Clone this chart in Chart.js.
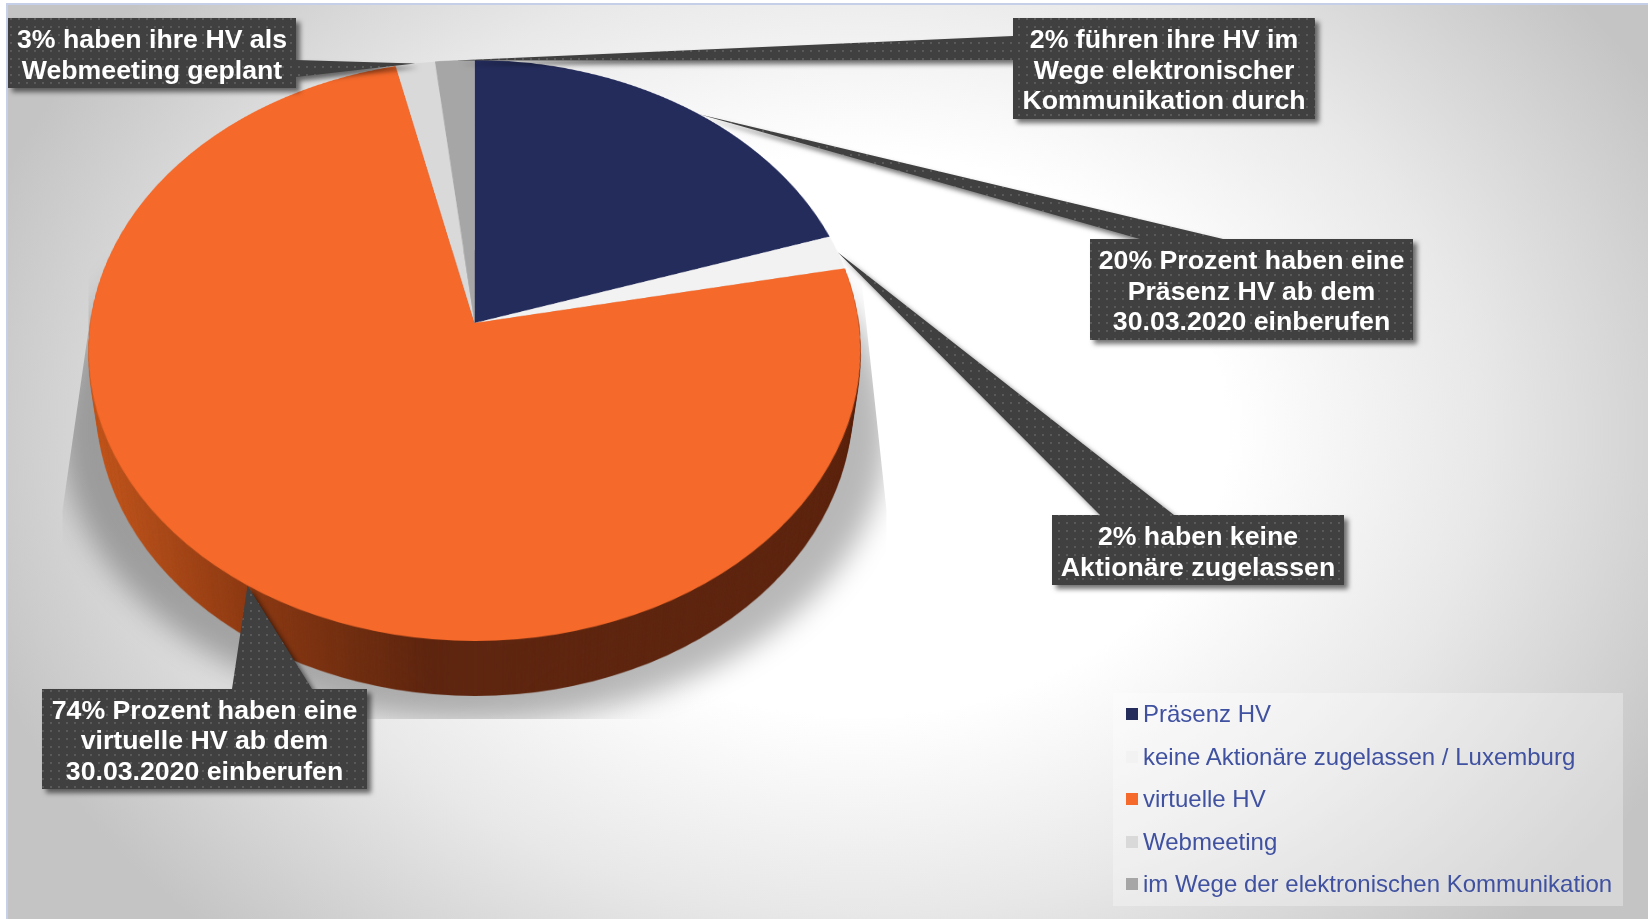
<!DOCTYPE html>
<html lang="de">
<head>
<meta charset="utf-8">
<title>HV Formate</title>
<script src="https://cdn.jsdelivr.net/npm/chart.js"></script>
<style>
  html, body { margin: 0; padding: 0; background: #fff; overflow: hidden; }
  #bg {
    position: absolute; left: 6px; top: 3px; width: 1642px; height: 916px; box-sizing: border-box;
    border-left: 2px solid #c5cfe8; border-top: 2px solid #c5cfe8;
    background: radial-gradient(ellipse 920px 700px at 850px 430px, #fff 40%, #e8e8e8 68%, #c4c4c4 100%);
  }
  #chart { position: absolute; left: 0; top: 0; }
  #legend {
    position: absolute; left: 1113px; top: 693px; width: 510px; height: 213px;
    background: rgba(255,255,255,0.3);
    font: 24px "Liberation Sans", sans-serif; color: #3f51a0;
  }
  #legend div.row { position: absolute; left: 13px; height: 30px; line-height: 30px; white-space: nowrap; }
  #legend span.box { position: absolute; left: 0; top: 9px; width: 12px; height: 12px; }
  #legend span.txt { position: absolute; left: 17px; top: 0; }
</style>
</head>
<body>
<div id="bg"></div>
<canvas id="chart" width="1648" height="919"></canvas>
<div id="legend"></div>
<script>
const categories = ['Präsenz HV', 'keine Aktionäre zugelassen / Luxemburg', 'virtuelle HV', 'Webmeeting', 'im Wege der elektronischen Kommunikation'];
const values = [20, 1.9, 74.5, 1.8, 1.8];
const sliceColors = ['#242c5c', '#f2f2f2', '#f5692a', '#d9d9d9', '#a6a6a6'];

const calloutLines = [
  ['20% Prozent haben eine', 'Präsenz HV ab dem', '30.03.2020 einberufen'],
  ['2% haben keine', 'Aktionäre zugelassen'],
  ['74% Prozent haben eine', 'virtuelle HV ab dem', '30.03.2020 einberufen'],
  ['3% haben ihre HV als', 'Webmeeting geplant'],
  ['2% führen ihre HV im', 'Wege elektronischer', 'Kommunikation durch']
];

// box = left, top, right, bottom / base = where the wedge leaves the box
const calloutLayout = [
  { box: [1090, 239, 1413, 340], side: 'top', base: [1140, 1223], frac: 0.54 },
  { box: [1052, 515, 1344, 585], side: 'top', base: [1100, 1174], frac: 0.5 },
  { box: [42, 689, 367, 789], side: 'top', base: [232, 312], frac: 0.5 },
  { box: [8, 18, 296, 88], side: 'right', base: [60, 77], frac: 0.5 },
  { box: [1013, 18, 1315, 119], side: 'left', base: [36, 60], frac: 0.5 }
];

// --- tilt of the pie: a perspective projection of the library's circle ---
const apexY = 323, topY = 60, bottomY = 641, halfWidth = 386, wallDepth = 55;
const tilt = -(bottomY - apexY - (apexY - topY)) / (bottomY - topY);
const scaleY = (bottomY - apexY) * (1 + tilt);
const scaleX = halfWidth * Math.sqrt(1 - tilt * tilt);

function project(cx, u, v) {
  const w = 1 + tilt * v;
  return { x: cx + scaleX * u / w, y: apexY + scaleY * v / w };
}

// copy a flat circular pie into dst row by row with the tilt applied
function projectRows(dst, src, cx, cy, r) {
  const W = src.width;
  for (let Y = topY - 4; Y < bottomY + 4; Y++) {
    const d0 = Y - apexY, d1 = d0 + 1;
    const v0 = d0 / (scaleY - tilt * d0), v1 = d1 / (scaleY - tilt * d1);
    const s = scaleX / (r * (1 + tilt * (v0 + v1) / 2));
    dst.drawImage(src, 0, cy + r * v0, W, r * (v1 - v0), cx - cx * s, Y, W * s, 1);
  }
}

function newLayer(w, h) {
  const c = document.createElement('canvas');
  c.width = w; c.height = h;
  return c;
}

function dotPattern(ctx) {
  const p = newLayer(8, 8), g = p.getContext('2d');
  g.fillStyle = '#404040';
  g.fillRect(0, 0, 8, 8);
  g.fillStyle = '#5a5a5a';
  g.fillRect(2, 2, 2, 2);
  return ctx.createPattern(p, 'repeat');
}

const tiltedPie = {
  id: 'tiltedPie',
  beforeDatasetDraw(chart, args) {
    const ctx = chart.ctx, W = chart.width, H = chart.height;
    const arcs = args.meta.data, cx = arcs[0].x, cy = arcs[0].y, r = arcs[0].outerRadius;

    const flat = newLayer(W, H), flatCtx = flat.getContext('2d');
    const full = newLayer(W, H), fullCtx = full.getContext('2d');
    arcs.forEach(a => a.draw(flatCtx));
    projectRows(fullCtx, flat, cx, cy, r);

    // the shadow under the pie, cut off at the floor line
    const sil = newLayer(W, H), silCtx = sil.getContext('2d');
    silCtx.drawImage(full, 0, 0);
    silCtx.globalCompositeOperation = 'source-in';
    silCtx.fillStyle = '#000';
    silCtx.fillRect(0, 0, W, H);
    ctx.save();
    ctx.beginPath();
    ctx.moveTo(cx - 386, 330); ctx.lineTo(cx - 386, 250); ctx.lineTo(cx + 386, 250); ctx.lineTo(cx + 386, 270);
    ctx.lineTo(cx + 412, 510); ctx.lineTo(cx + 412, 719);
    ctx.lineTo(cx - 412, 719); ctx.lineTo(cx - 412, 510);
    ctx.closePath();
    ctx.clip();
    ctx.globalAlpha = 0.28;
    ctx.filter = 'blur(14px)';
    ctx.drawImage(sil, cx - cx * 1.07, 80, W * 1.07, H);
    ctx.filter = 'none';
    ctx.restore();

    // side wall only under the big slice
    const one = newLayer(W, H);
    arcs[2].draw(one.getContext('2d'));
    const wall = newLayer(W, H), wallCtx = wall.getContext('2d');
    projectRows(wallCtx, one, cx, cy, r);
    wallCtx.globalCompositeOperation = 'source-in';
    const grad = wallCtx.createLinearGradient(88, 0, 861, 0);
    grad.addColorStop(0, '#c4581f');
    grad.addColorStop(0.2, '#8f3b14');
    grad.addColorStop(0.35, '#6f2e11');
    grad.addColorStop(0.44, '#5f2610');
    grad.addColorStop(1, '#5f2610');
    wallCtx.fillStyle = grad;
    wallCtx.fillRect(0, 0, W, H);
    for (let d = wallDepth; d > 0; d--) {
      const s = 1 - 0.022 * d / wallDepth;
      ctx.drawImage(wall, cx - cx * s, d, W * s, H);
    }

    ctx.drawImage(full, 0, 0);
    return false;
  },
  afterDraw(chart) {
    const ctx = chart.ctx, arcs = chart.getDatasetMeta(0).data;
    const fill = dotPattern(ctx);
    calloutLayout.forEach((c, i) => {
      const a = arcs[i], ang = a.startAngle + c.frac * (a.endAngle - a.startAngle);
      const tip = project(a.x, Math.cos(ang), Math.sin(ang));
      const [l, t, r, b] = c.box, [b0, b1] = c.base;
      const pts = [[l, t]];
      if (c.side === 'top') pts.push([b0, t], [tip.x, tip.y], [b1, t]);
      pts.push([r, t]);
      if (c.side === 'right') pts.push([r, b0], [tip.x, tip.y], [r, b1]);
      pts.push([r, b], [l, b]);
      if (c.side === 'left') pts.push([l, b1], [tip.x, tip.y], [l, b0]);

      ctx.save();
      ctx.shadowColor = 'rgba(0,0,0,0.55)';
      ctx.shadowBlur = 5;
      ctx.shadowOffsetX = 4;
      ctx.shadowOffsetY = 4;
      ctx.beginPath();
      pts.forEach((p, n) => n ? ctx.lineTo(p[0], p[1]) : ctx.moveTo(p[0], p[1]));
      ctx.closePath();
      ctx.fillStyle = fill;
      ctx.fill();
      ctx.restore();

      ctx.save();
      ctx.font = 'bold 26.7px "Liberation Sans", sans-serif';
      ctx.fillStyle = '#fff';
      ctx.textAlign = 'center';
      ctx.textBaseline = 'middle';
      const lines = calloutLines[i], lh = 30.5;
      lines.forEach((txt, n) => {
        ctx.fillText(txt, (l + r) / 2, (t + b) / 2 + 3 + (n - (lines.length - 1) / 2) * lh);
      });
      ctx.restore();
    });
  }
};

const chart = new Chart(document.getElementById('chart').getContext('2d'), {
  type: 'pie',
  data: {
    labels: categories,
    datasets: [{ data: values, backgroundColor: sliceColors, borderWidth: 0 }]
  },
  options: {
    responsive: false,
    animation: false,
    layout: { padding: { left: 88, right: 787, top: 70, bottom: 77 } },
    plugins: { legend: { display: false }, tooltip: { enabled: false } }
  },
  plugins: [tiltedPie]
});

// legend box built from the library's own legend items
const legendEl = document.getElementById('legend');
Chart.overrides.pie.plugins.legend.labels.generateLabels(chart).forEach((item, i) => {
  const row = document.createElement('div');
  row.className = 'row';
  row.style.top = (6 + i * 42.5) + 'px';
  row.innerHTML = '<span class="box" style="background:' + item.fillStyle + '"></span><span class="txt">' + item.text + '</span>';
  legendEl.appendChild(row);
});
</script>
</body>
</html>
